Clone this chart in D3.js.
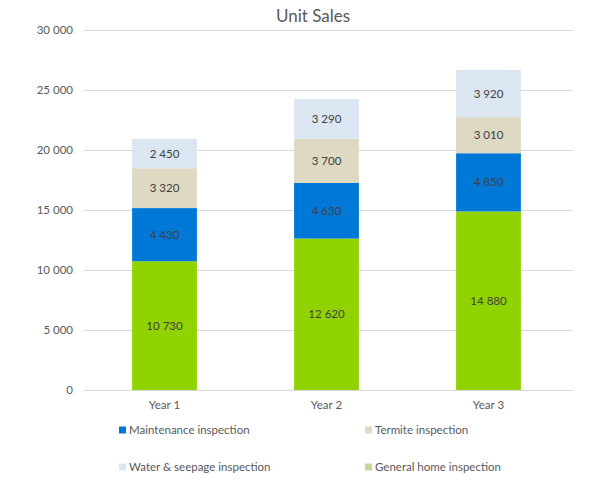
<!DOCTYPE html>
<html><head><meta charset="utf-8">
<script src="https://cdn.jsdelivr.net/npm/d3@7"></script>
<style>body{margin:0;background:#fff}svg{font-family:Lato,"Open Sans",sans-serif}</style>
</head><body>
<svg id="c" width="610" height="492"></svg>
<script>
const categories = ["Year 1","Year 2","Year 3"];
const seriesNames = ["General home inspection","Maintenance inspection","Termite inspection","Water & seepage inspection"];
const general = [10730,12620,14880];
const maintenance = [4430,4630,4850];
const termite = [3320,3700,3010];
const water = [2450,3290,3920];
const yTicks = [0,5000,10000,15000,20000,25000,30000];
const barColors = ["#90D300","#0078D7","#DDD9C3","#DCE6F2"];
const legendColors = {"Maintenance inspection":"#0078D7","Termite inspection":"#DDD9C3","Water & seepage inspection":"#DCE6F2","General home inspection":"#C3D69B"};
const legendOrder = ["Maintenance inspection","Termite inspection","Water & seepage inspection","General home inspection"];

const svg = d3.select("#c");
const x = d3.scaleBand().domain(categories).range([83.5,569.5]).paddingInner(0.6).paddingOuter(0.3);
const y = d3.scaleLinear().domain([0,30000]).range([390,30]);
const fmt = v => d3.format(",")(v).replace(/,/g," ");

svg.append("text").attr("x",313).attr("y",22).attr("text-anchor","middle")
  .attr("font-size",17).attr("fill","#595959").text("Unit Sales");

const grid = svg.append("g");
yTicks.forEach(t=>{
  grid.append("line").attr("x1",84).attr("x2",573).attr("y1",y(t)+0.5).attr("y2",y(t)+0.5)
    .attr("stroke","#D9D9D9").attr("stroke-width",1);
  grid.append("text").attr("x",73).attr("y",y(t)).attr("dy","0.35em").attr("text-anchor","end")
    .attr("font-size",11.5).attr("fill","#595959").text(fmt(t));
});

const rows = categories.map((c,i)=>({cat:c,general:general[i],maintenance:maintenance[i],termite:termite[i],water:water[i]}));
const keys = ["general","maintenance","termite","water"];
const stack = d3.stack().keys(keys)(rows);
stack.forEach((layer,li)=>{
  const g = svg.append("g");
  layer.forEach(d=>{
    g.append("rect").attr("x",x(d.data.cat)).attr("width",x.bandwidth())
      .attr("y",y(d[1])).attr("height",y(d[0])-y(d[1])).attr("fill",barColors[li]);
    g.append("text").attr("x",x(d.data.cat)+x.bandwidth()/2).attr("y",(y(d[0])+y(d[1]))/2)
      .attr("dy","0.35em").attr("text-anchor","middle").attr("font-size",11.5).attr("fill","#404040")
      .text(fmt(d[1]-d[0]));
  });
});

svg.append("line").attr("x1",84).attr("x2",573).attr("y1",390.5).attr("y2",390.5).attr("stroke","#D9D9D9");

categories.forEach(c=>{
  svg.append("text").attr("x",x(c)+x.bandwidth()/2).attr("y",405).attr("dy","0.35em")
    .attr("text-anchor","middle").attr("font-size",11.5).attr("fill","#595959").text(c);
});

const lx = [119,365], ly = [430,467];
legendOrder.forEach((n,i)=>{
  const cx = lx[i%2], cy = ly[Math.floor(i/2)];
  svg.append("rect").attr("x",cx).attr("y",cy-3.5).attr("width",7).attr("height",7).attr("fill",legendColors[n]);
  svg.append("text").attr("x",cx+10).attr("y",cy).attr("dy","0.35em").attr("font-size",11.5)
    .attr("fill","#595959").text(n);
});
</script>
</body></html>
